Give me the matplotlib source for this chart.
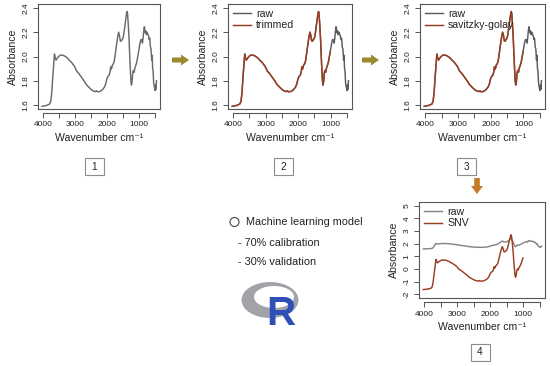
import numpy as np
import matplotlib
matplotlib.use("Agg")
import matplotlib.pyplot as plt
from matplotlib.patches import Ellipse, Rectangle, Polygon

plt.rcParams['font.family'] = ['Liberation Sans', 'DejaVu Sans']

# ---------------- data ----------------
wavenumber = [4030, 3900, 3800, 3760, 3730, 3700, 3670, 3645, 3620, 3595, 3560, 3520,
              3470, 3400, 3330, 3250, 3180, 3100, 3020, 2950, 2880, 2800, 2720, 2650,
              2560, 2480, 2400, 2350, 2330, 2300, 2220, 2150, 2080, 2040, 2000, 1960,
              1930, 1900, 1885, 1870, 1850, 1830, 1800, 1770, 1740, 1700, 1660, 1635,
              1610, 1585, 1560, 1530, 1500, 1470, 1440, 1410, 1385, 1370, 1355, 1335,
              1310, 1290, 1270, 1250, 1235, 1215, 1195, 1175, 1150, 1130, 1100, 1070,
              1040, 1010, 985, 960, 935, 910, 890, 870, 850, 830, 815, 800, 785, 765,
              745, 725, 700, 680, 660, 640, 620, 600, 585, 570, 555, 540, 525, 510,
              495, 480, 465, 450]
absorbance = [1.590, 1.597, 1.608, 1.630, 1.700, 1.820, 1.930, 2.020, 1.990, 1.970, 1.985, 1.998,
              2.010, 2.012, 2.005, 1.990, 1.970, 1.948, 1.920, 1.880, 1.860, 1.830, 1.800, 1.770,
              1.745, 1.725, 1.713, 1.712, 1.718, 1.710, 1.712, 1.725, 1.748, 1.775, 1.820, 1.840,
              1.848, 1.880, 1.915, 1.895, 1.905, 1.930, 1.940, 1.965, 2.020, 2.100, 2.170, 2.200,
              2.175, 2.130, 2.125, 2.140, 2.150, 2.190, 2.250, 2.310, 2.355, 2.370, 2.350, 2.270,
              2.150, 2.020, 1.900, 1.800, 1.765, 1.790, 1.860, 1.885, 1.870, 1.900, 1.925, 1.950,
              1.995, 2.040, 2.080, 2.120, 2.140, 2.135, 2.110, 2.150, 2.210, 2.245, 2.220, 2.195,
              2.210, 2.180, 2.200, 2.185, 2.170, 2.140, 2.150, 2.080, 2.060, 1.970, 2.010, 1.900,
              1.880, 1.790, 1.760, 1.740, 1.720, 1.765, 1.730, 1.800]
trim_min = 1000
x_ticks = [4000, 3500, 3000, 2500, 2000, 1500, 1000, 500]
x_ticklabels = ['4000', '', '3000', '', '2000', '', '1000', '']
y_ticks_abs = [1.6, 1.8, 2.0, 2.2, 2.4]
y_ticks_snv = [-2, -1, 0, 1, 2, 3, 4, 5]
panel_legends = [None, ['raw', 'trimmed'], ['raw', 'savitzky-golay'], ['raw', 'SNV']]
panel_numbers = ['1', '2', '3', '4']
text_lines = ['Machine learning model', '- 70% calibration', '- 30% validation']

wn = np.array(wavenumber, dtype=float)
ab = np.array(absorbance, dtype=float)
mask = wn >= trim_min
wn_t, ab_t = wn[mask], ab[mask]
w = np.abs(np.gradient(wn_t))
mu = np.sum(w * ab_t) / np.sum(w)
sd = np.sqrt(np.sum(w * (ab_t - mu) ** 2) / np.sum(w))
snv = (ab_t - mu) / sd

W, H = 550, 366
fig = plt.figure(figsize=(5.5, 3.66), dpi=100)

RAW_C = '#5e5860'
PROC_C = '#9a3e22'
AX_C = '#555555'
LW = 1.05


def rect(x0, y0, x1, y1):
    return [x0 / W, 1 - y1 / H, (x1 - x0) / W, (y1 - y0) / H]


def style(ax, ylim, yticks, ylabels=None):
    ax.set_xlim(4160, 340)
    ax.set_ylim(*ylim)
    for s in ['top', 'right', 'left']:
        ax.spines[s].set_color(AX_C)
        ax.spines[s].set_linewidth(0.8)
    ax.spines['bottom'].set_position(('outward', 3))
    ax.spines['bottom'].set_bounds(500, 4000)
    ax.spines['bottom'].set_color(AX_C)
    ax.spines['bottom'].set_linewidth(0.8)
    ax.plot([0, 1], [0, 0], transform=ax.transAxes, color=AX_C, lw=0.8, clip_on=False)
    ax.set_xticks(x_ticks)
    ax.set_xticklabels(x_ticklabels)
    ax.set_yticks(yticks)
    ax.set_yticklabels(ylabels if ylabels else [f'{v:.1f}' for v in yticks])
    ax.tick_params(axis='both', length=3.5, width=0.7, color=AX_C, labelsize=6.0,
                   labelcolor='#222222', pad=2.5)
    for lab in ax.get_yticklabels():
        lab.set_rotation(90)
        lab.set_va('center')
    ax.set_xlabel('Wavenumber cm⁻¹', fontsize=7.6, labelpad=3, color='#222222')
    ax.set_ylabel('Absorbance', fontsize=7.6, labelpad=3.5, color='#222222')


# panel 1
ax1 = fig.add_axes(rect(38, 4, 160, 109))
ax1.plot(wn, ab, color='#6a6a6a', lw=LW)
style(ax1, (1.568, 2.432), y_ticks_abs)

# panel 2
ax2 = fig.add_axes(rect(228, 4, 352, 109))
ax2.plot(wn, ab, color=RAW_C, lw=LW, label=panel_legends[1][0])
ax2.plot(wn_t, ab_t, color=PROC_C, lw=LW, label=panel_legends[1][1])
style(ax2, (1.568, 2.432), y_ticks_abs)

# panel 3
ax3 = fig.add_axes(rect(420, 4, 545, 109))
ax3.plot(wn, ab, color=RAW_C, lw=LW, label=panel_legends[2][0])
ax3.plot(wn_t, ab_t, color=PROC_C, lw=LW, label=panel_legends[2][1])
style(ax3, (1.568, 2.432), y_ticks_abs)

# panel 4
ax4 = fig.add_axes(rect(419, 202, 545, 298))
ax4.plot(wn, ab, color='#8a8588', lw=LW, label=panel_legends[3][0])
ax4.plot(wn_t, snv, color=PROC_C, lw=LW, label=panel_legends[3][1])
style(ax4, (-2.28, 5.28), y_ticks_snv, [str(v) for v in y_ticks_snv])

for ax in (ax2, ax3, ax4):
    leg = ax.legend(loc='upper left', frameon=False, fontsize=7.6, handlelength=1.7,
                    handletextpad=0.5, labelspacing=0.15, borderaxespad=0.25,
                    borderpad=0.2)
    for t in leg.get_texts():
        t.set_color('#222222')

# overlay for decorations (pixel coordinates)
ov = fig.add_axes([0, 0, 1, 1], zorder=-1)
ov.set_xlim(0, W)
ov.set_ylim(H, 0)
ov.axis('off')


def harrow(x0, x1, yc, color):
    pts = [(x0, yc - 2.5), (x1 - 8, yc - 2.5), (x1 - 8, yc - 5.5), (x1, yc),
           (x1 - 8, yc + 5.5), (x1 - 8, yc + 2.5), (x0, yc + 2.5)]
    ov.add_patch(Polygon(pts, closed=True, color=color, lw=0))


harrow(172, 189, 60, '#9c8a2e')
harrow(362, 379, 60, '#9c8a2e')
xc = 477
pts = [(xc - 2.8, 178), (xc + 2.8, 178), (xc + 2.8, 186), (xc + 6, 186), (xc, 194),
       (xc - 6, 186), (xc - 2.8, 186)]
ov.add_patch(Polygon(pts, closed=True, color='#c47a28', lw=0))

# number boxes
for (cx, cy), num in zip([(94.5, 166.5), (283.5, 166.5), (466.5, 166.5), (480, 352)], panel_numbers):
    ov.add_patch(Rectangle((cx - 9.5, cy - 8.5), 19, 17, facecolor='white',
                           edgecolor='#8c8c8c', lw=0.8))
    ov.text(cx, cy, num, fontsize=7.2, ha='center', va='center', color='#222222')

# machine learning text
ov.add_patch(Ellipse((234.5, 222), 9, 9, facecolor='white', edgecolor='#444444', lw=0.8))
ov.text(246, 222, text_lines[0], fontsize=7.8, ha='left', va='center', color='#222222')
ov.text(238, 242.5, text_lines[1], fontsize=7.8, ha='left', va='center', color='#222222')
ov.text(238, 262, text_lines[2], fontsize=7.8, ha='left', va='center', color='#222222')

# R logo
ov.add_patch(Ellipse((270, 300), 57, 36, facecolor='#a2a3a8', edgecolor='none'))
ov.add_patch(Ellipse((274, 297), 40, 22, facecolor='white', edgecolor='none'))
ov.text(281, 325, 'R', fontsize=29, fontweight='bold', ha='center', va='baseline',
        color='#2f4fb8', family=['Liberation Sans', 'DejaVu Sans'])

fig.savefig('out.png', dpi=100)
